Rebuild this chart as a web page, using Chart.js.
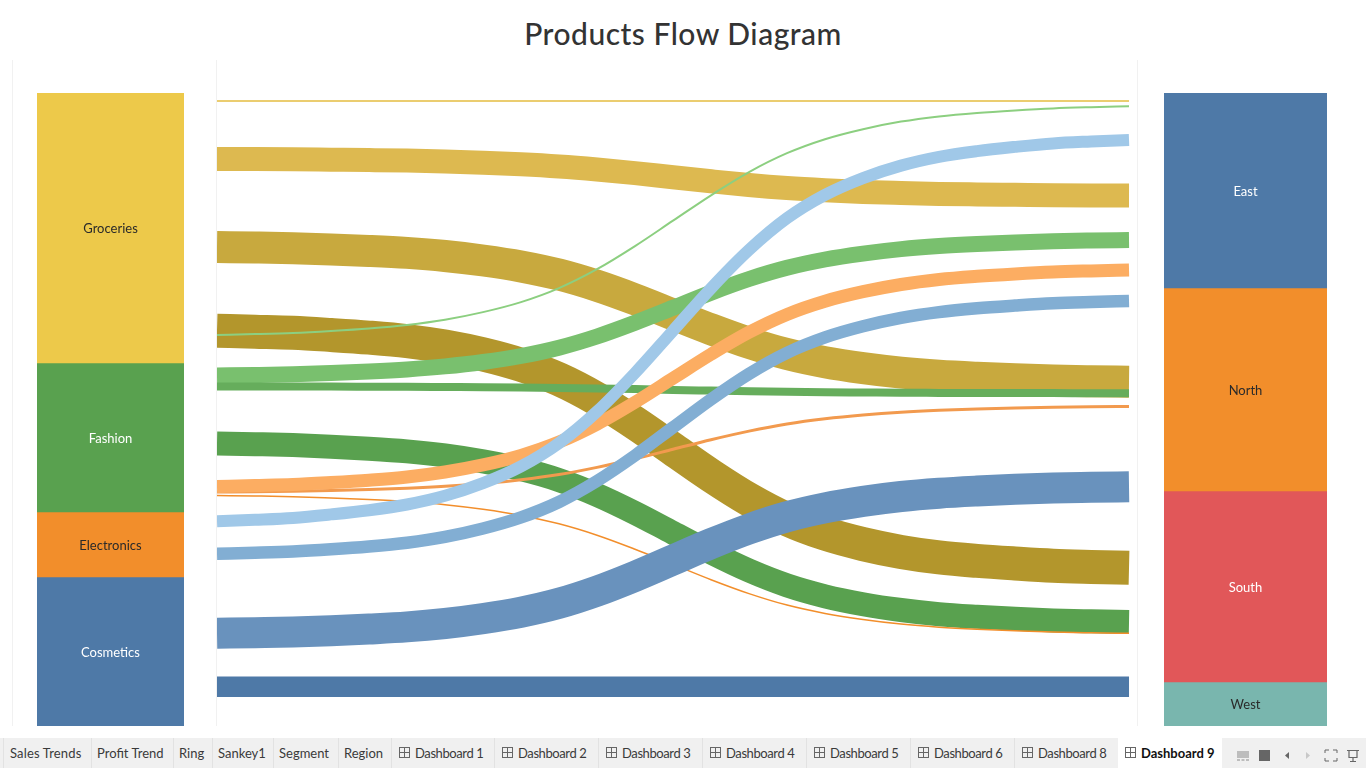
<!DOCTYPE html>
<html lang="en">
<head>
<meta charset="utf-8">
<title>Products Flow Diagram</title>
<script src="https://cdn.jsdelivr.net/npm/chart.js@4/dist/chart.umd.min.js"></script>
<style>
html,body{margin:0;padding:0;background:#fff;width:1366px;height:768px;overflow:hidden;font-family:Lato,"Open Sans",sans-serif}
#title{position:absolute;left:0;width:1366px;top:13px;text-align:center;font:500 30px/40px Lato,sans-serif;color:#333;letter-spacing:.5px}
canvas{position:absolute;display:block}
.rule{position:absolute;top:60px;height:666px;width:1px;background:#f1f1f1}
#tabs{position:absolute;left:0;top:738px;width:1366px;height:30px;background:#f0f0f0}
.tab{position:absolute;top:0;height:30px;box-sizing:border-box;border-left:1px solid #e2e2e2;font:13px/30px Lato,sans-serif;color:#3a3a3a;white-space:nowrap}
.tab span{position:absolute;top:0}
.tab.active{background:#fff;color:#111;font-weight:700;border-left:none}
.ic{position:absolute;top:9px;width:9px;height:9px;border:1px solid #666;
 background:linear-gradient(#666,#666) 50% 50%/1px 100% no-repeat,linear-gradient(#666,#666) 50% 50%/100% 1px no-repeat}
.b{position:absolute}
</style>
</head>
<body>
<div id="title">Products Flow Diagram</div>
<div class="rule" style="left:12px"></div>
<div class="rule" style="left:216px"></div>
<div class="rule" style="left:1137px"></div>
<canvas id="left" width="147" height="633" style="left:37px;top:93px"></canvas>
<canvas id="flow" width="920" height="633" style="left:217px;top:93px"></canvas>
<canvas id="right" width="163" height="633" style="left:1164px;top:93px"></canvas>
<div id="tabs"></div>
<script>
// ---- node sizes (height units on a 0-633 scale) ----
const leftCategories = ["Groceries", "Fashion", "Electronics", "Cosmetics"];
const leftValues = [270, 149, 65, 149];
const leftColors = ["#edc94a", "#59a14f", "#f28e2b", "#4e79a7"];
const leftTextColors = ["#2a2a2a", "#ffffff", "#2a2a2a", "#ffffff"];

const rightCategories = ["East", "North", "South", "West"];
const rightValues = [195, 203, 191, 44];
const rightColors = ["#4e79a7", "#f28e2b", "#e15759", "#79b6ae"];
const rightTextColors = ["#ffffff", "#2a2a2a", "#ffffff", "#2a2a2a"];

// ---- flow paths: centre of each ribbon, read at each step ----
const flowSteps = [-6, -5.5, -5, -4.5, -4, -3.5, -3, -2.5, -2, -1.5, -1, -0.5, 0, 0.5, 1, 1.5, 2, 2.5, 3, 3.5, 4, 4.5, 5, 5.5, 6];
const groceriesWest = [8, 8, 8, 8, 8, 8, 8, 8, 8, 8, 8, 8, 8, 8, 8, 8, 8, 8, 8, 8, 8, 8, 8, 8, 8];
const groceriesEast = [66, 66.1, 66.3, 66.7, 67.1, 67.6, 68.4, 69.7, 71.3, 73.5, 76.5, 80.1, 84.3, 88.3, 92, 95, 97.2, 98.9, 100, 100.9, 101.4, 101.8, 102.2, 102.4, 102.5];
const groceriesNorth = [154, 154.5, 155.2, 156.4, 157.9, 159.9, 163, 167.5, 173.4, 181.6, 192.8, 206.4, 221.4, 236.3, 249.9, 261.1, 269.3, 275.2, 279.7, 282.8, 284.8, 286.3, 287.5, 288.2, 288.7];
const groceriesSouth = [237.7, 238.7, 239.8, 242, 244.6, 248.1, 253.6, 261.4, 271.9, 286.3, 306, 330, 356.3, 382.6, 406.5, 426.2, 440.7, 451.1, 458.9, 464.4, 467.9, 470.5, 472.7, 473.9, 474.8];
const fashionEast = [242, 241.1, 239.9, 237.9, 235.4, 231.9, 226.7, 219.1, 209.1, 195.1, 176.2, 153.1, 127.7, 102.3, 79.1, 60.2, 46.2, 36.2, 28.6, 23.4, 19.9, 17.4, 15.4, 14.2, 13.3];
const fashionNorth = [282.5, 282, 281.3, 280.1, 278.6, 276.5, 273.4, 269, 263, 254.7, 243.5, 229.8, 214.8, 199.7, 186, 174.8, 166.5, 160.6, 156.1, 153, 150.9, 149.4, 148.2, 147.5, 147];
const fashionWest = [293.5, 293.5, 293.6, 293.6, 293.7, 293.8, 294, 294.2, 294.5, 294.9, 295.4, 296.1, 296.9, 297.6, 298.3, 298.8, 299.2, 299.5, 299.8, 299.9, 300, 300.1, 300.1, 300.2, 300.2];
const fashionSouth = [350.5, 351.2, 352.1, 353.7, 355.7, 358.4, 362.5, 368.4, 376.2, 387.1, 401.9, 419.9, 439.8, 459.6, 477.6, 492.4, 503.3, 511.2, 517, 521.2, 523.8, 525.8, 527.4, 528.3, 529];
const electronicsNorth = [393.5, 392.6, 391.6, 389.6, 387.2, 384, 379, 371.9, 362.4, 349.1, 331.2, 309.3, 285.3, 261.3, 239.3, 221.4, 208.2, 198.7, 191.5, 186.5, 183.3, 180.9, 179, 177.9, 177];
const electronicsEast = [399, 398.7, 398.2, 397.5, 396.5, 395.2, 393.3, 390.5, 386.7, 381.5, 374.4, 365.8, 356.3, 346.7, 338.1, 331, 325.8, 322, 319.2, 317.3, 316, 315, 314.3, 313.8, 313.5];
const electronicsSouth = [402.5, 403, 403.7, 405, 406.5, 408.6, 411.7, 416.3, 422.4, 430.8, 442.2, 456.2, 471.4, 486.7, 500.6, 512.1, 520.4, 526.5, 531.1, 534.2, 536.3, 537.8, 539.1, 539.8, 540.3];
const cosmeticsEast = [428.3, 426.8, 424.9, 421.4, 417.2, 411.5, 402.8, 390.2, 373.4, 350.1, 318.5, 280, 237.7, 195.3, 156.9, 125.2, 101.9, 85.1, 72.6, 63.8, 58.1, 53.9, 50.4, 48.5, 47];
const cosmeticsNorth = [460.8, 459.8, 458.5, 456.3, 453.5, 449.7, 443.9, 435.5, 424.4, 409, 388, 362.5, 334.4, 306.3, 280.8, 259.8, 244.4, 233.3, 224.9, 219.1, 215.3, 212.6, 210.3, 209, 208];
const cosmeticsSouth = [540.3, 539.7, 539, 537.7, 536, 533.9, 530.5, 525.6, 519.2, 510.3, 498.1, 483.3, 467, 450.7, 436, 423.8, 414.9, 408.4, 403.5, 400.2, 398, 396.3, 395, 394.3, 393.7];
const cosmeticsWest = [593.7, 593.7, 593.7, 593.7, 593.7, 593.7, 593.7, 593.7, 593.7, 593.7, 593.7, 593.7, 593.7, 593.7, 593.7, 593.7, 593.7, 593.7, 593.7, 593.7, 593.7, 593.7, 593.7, 593.7, 593.7];

const flowNames = ["Groceries-West", "Groceries-East", "Groceries-North", "Groceries-South",
  "Fashion-East", "Fashion-North", "Fashion-Mid", "Fashion-South",
  "Electronics-Mid", "Electronics-South", "Electronics-North",
  "Cosmetics-East", "Cosmetics-North", "Cosmetics-South", "Cosmetics-West"];
const flowSeries = [groceriesWest, groceriesEast, groceriesNorth, groceriesSouth,
  fashionEast, fashionNorth, fashionWest, fashionSouth,
  electronicsEast, electronicsSouth, electronicsNorth,
  cosmeticsEast, cosmeticsNorth, cosmeticsSouth, cosmeticsWest];
const flowSizes = [2, 24, 32, 34, 2, 16, 8, 24, 3, 1.5, 13, 12, 12.5, 31, 20.5];
const flowColors = ["#ebcd70", "#ddb950", "#c8a93e", "#b3962c",
  "#8ccf80", "#79c06e", "#66ad5c", "#59a14f",
  "#f29a4e", "#f28e2b", "#fcad62",
  "#a0c8e8", "#82aed3", "#6992bd", "#4e79a7"];

const tabNames = ["Sales Trends", "Profit Trend", "Ring", "Sankey1", "Segment", "Region",
  "Dashboard 1", "Dashboard 2", "Dashboard 3", "Dashboard 4", "Dashboard 5", "Dashboard 6", "Dashboard 8", "Dashboard 9"];
const tabEdges = [3, 91, 173, 212, 273, 338, 391, 494, 598, 702, 806, 910, 1014, 1118, 1222];

const sharedOptions = {
  responsive: false, animation: false, events: [],
  layout: { padding: 0 },
  plugins: { legend: { display: false }, tooltip: { enabled: false } }
};

const nodeLabels = {
  id: "nodeLabels",
  afterDatasetsDraw(chart) {
    const ctx = chart.ctx;
    ctx.save();
    ctx.font = "13px Lato, sans-serif";
    ctx.textAlign = "center";
    ctx.textBaseline = "middle";
    chart.data.datasets.forEach((ds, i) => {
      const bar = chart.getDatasetMeta(i).data[0];
      ctx.fillStyle = ds.textColor;
      ctx.fillText(ds.label, chart.chartArea.left + chart.chartArea.width / 2, (bar.y + bar.base) / 2 + 1);
    });
    ctx.restore();
  }
};

function nodeChart(id, names, values, colors, textColors) {
  new Chart(document.getElementById(id), {
    type: "bar",
    data: {
      labels: ["nodes"],
      datasets: names.map((n, i) => ({
        label: n, data: [values[i]], backgroundColor: colors[i], textColor: textColors[i],
        borderWidth: 0, categoryPercentage: 1, barPercentage: 1
      }))
    },
    options: Object.assign({}, sharedOptions, {
      scales: {
        x: { stacked: true, display: false },
        y: { stacked: true, display: false, reverse: true, min: 0, max: 633 }
      }
    }),
    plugins: [nodeLabels]
  });
}
nodeChart("left", leftCategories, leftValues, leftColors, leftTextColors);
nodeChart("right", rightCategories, rightValues, rightColors, rightTextColors);

new Chart(document.getElementById("flow"), {
  type: "line",
  data: {
    datasets: flowSeries.map((s, i) => ({
      label: flowNames[i],
      data: s.map((v, k) => ({ x: flowSteps[k], y: v })),
      borderColor: flowColors[i],
      borderWidth: flowSizes[i],
      borderCapStyle: "butt",
      borderJoinStyle: "round",
      cubicInterpolationMode: "monotone",
      pointRadius: 0,
      fill: false,
      order: flowSeries.length - i
    }))
  },
  options: Object.assign({}, sharedOptions, {
    scales: {
      x: { type: "linear", display: false, min: -6, max: 6.105 },
      y: { display: false, reverse: true, min: 0, max: 633 }
    }
  })
});

// ---- sheet tabs ----
const tabs = document.getElementById("tabs");
tabNames.forEach((name, i) => {
  const el = document.createElement("div");
  const dash = name.startsWith("Dashboard");
  const active = i === tabNames.length - 1;
  el.className = "tab" + (active ? " active" : "");
  el.style.left = tabEdges[i] + "px";
  el.style.width = (tabEdges[i + 1] - tabEdges[i]) + "px";
  if (dash) { const ic = document.createElement("i"); ic.className = "ic"; ic.style.left = "7px"; el.appendChild(ic); }
  const t = document.createElement("span");
  t.textContent = name;
  t.style.left = (dash ? 23 : (i === 0 ? 6 : 5)) + "px";
  if (dash && !active) t.style.letterSpacing = "-.4px";
  if (i === 0) t.style.letterSpacing = ".15px";
  el.appendChild(t);
  tabs.appendChild(el);
});
</script>
<svg class="b" style="left:1230px;top:738px" width="136" height="30" viewBox="0 0 136 30">
  <g fill="#bdbdbd"><rect x="7" y="13" width="12" height="7"/><rect x="7" y="21" width="3" height="2"/><rect x="11.5" y="21" width="3" height="2"/><rect x="16" y="21" width="3" height="2"/></g>
  <rect x="29" y="12" width="11" height="11" fill="#666"/>
  <path d="M59 14v7l-4-3.5z" fill="#666"/>
  <path d="M76 14v7l4-3.5z" fill="#c8c8c8"/>
  <path d="M95 15v-3h4M103 12h4v3M107 20v3h-4M99 23h-4v-3" fill="none" stroke="#666" stroke-width="1"/>
  <path d="M117 12.5h12M119 12.5v7h8v-7M123 19.5v4M120 23.5h6" fill="none" stroke="#666" stroke-width="1.2"/>
</svg>
</body>
</html>
